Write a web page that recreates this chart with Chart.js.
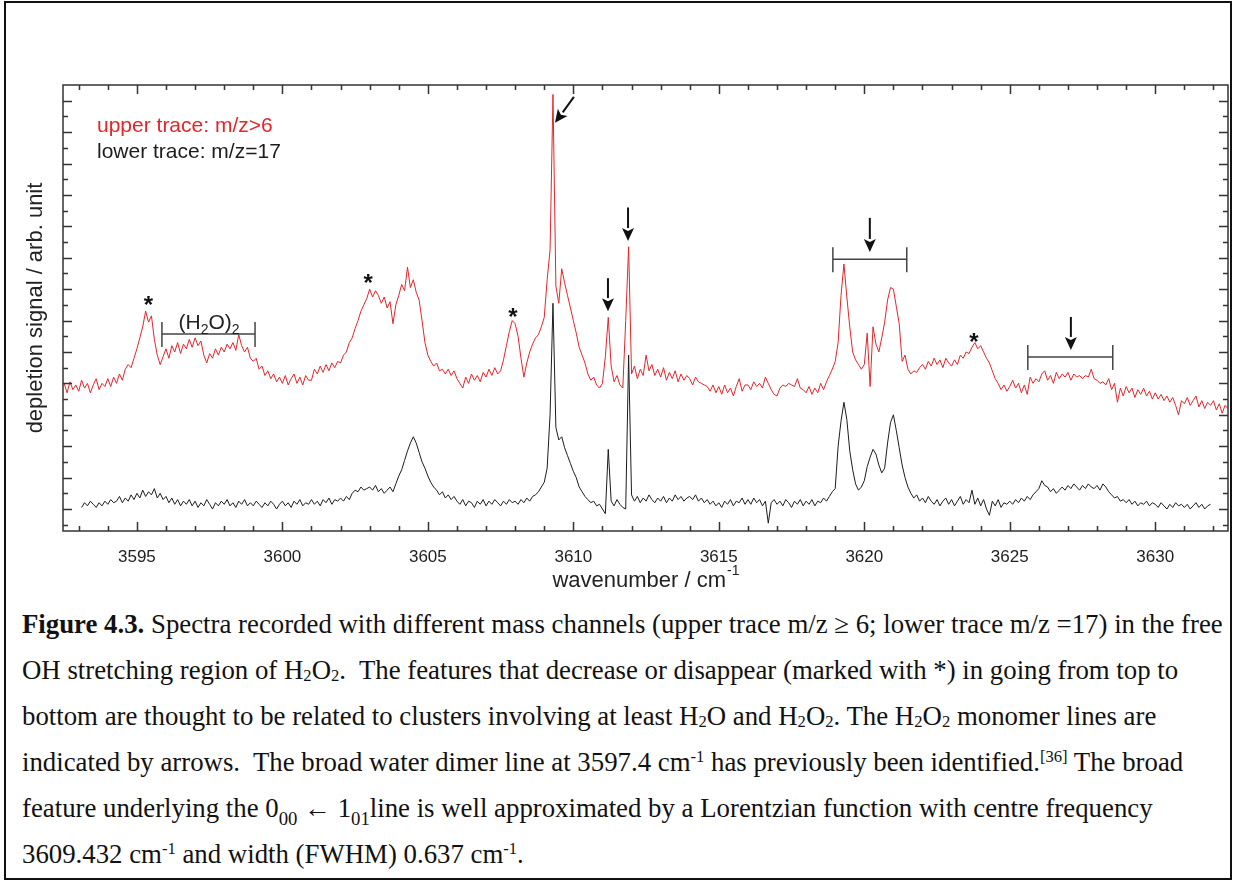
<!DOCTYPE html>
<html>
<head>
<meta charset="utf-8">
<title>Figure 4.3 - H2O2 free OH stretch spectra</title>
<script src="https://cdn.jsdelivr.net/npm/chart.js@4.4.1/dist/chart.umd.min.js"></script>
<style>
  body { margin: 0; background: #fff; }
  #frame { position: absolute; left: 4px; top: 1px; width: 1228px; height: 879px; border: 2px solid #111; box-sizing: border-box; }
  #plot { position: absolute; left: 0; top: 0; }
  #caption { position: absolute; left: 22px; top: 601px; font-family: 'Liberation Serif', 'Times New Roman', serif;
             font-size: 26.8px; line-height: 46px; color: #111; white-space: nowrap; }
  #caption sub { font-size: 0.62em; vertical-align: -0.1em; line-height: 0; }
  #caption sup { font-size: 0.62em; vertical-align: 0.55em; line-height: 0; }
  #caption .q sub { vertical-align: -0.4em; font-size: 0.7em; }
</style>
</head>
<body>
<div id="frame"></div>
<canvas id="plot" width="1235" height="600"></canvas>
<div id="caption">
  <div><b>Figure 4.3.</b> Spectra recorded with different mass channels (upper trace m/z ≥ 6; lower trace m/z =17) in the free</div>
  <div>OH stretching region of H<sub>2</sub>O<sub>2</sub>.&nbsp; The features that decrease or disappear (marked with *) in going from top to</div>
  <div>bottom are thought to be related to clusters involving at least H<sub>2</sub>O and H<sub>2</sub>O<sub>2</sub>. The H<sub>2</sub>O<sub>2</sub> monomer lines are</div>
  <div>indicated by arrows.&nbsp; The broad water dimer line at 3597.4 cm<sup>-1</sup> has previously been identified.<sup>[36]</sup> The broad</div>
  <div class="q">feature underlying the 0<sub>00</sub> ← 1<sub>01</sub>line is well approximated by a Lorentzian function with centre frequency</div>
  <div>3609.432 cm<sup>-1</sup> and width (FWHM) 0.637 cm<sup>-1</sup>.</div>
</div>
<script>
// Spectra: depletion signal (arb. unit, 1 = one y tick) per wavenumber / cm-1

const wavenumber = [
  3592.5, 3592.6, 3592.7, 3592.8, 3592.9,
  3593.0, 3593.1, 3593.2, 3593.3, 3593.4, 3593.5, 3593.6, 3593.7, 3593.8, 3593.9,
  3594.0, 3594.1, 3594.2, 3594.3, 3594.4, 3594.5, 3594.6, 3594.7, 3594.8, 3594.9,
  3595.0, 3595.1, 3595.2, 3595.3, 3595.4, 3595.5, 3595.6, 3595.7, 3595.8, 3595.9,
  3596.0, 3596.1, 3596.2, 3596.3, 3596.4, 3596.5, 3596.6, 3596.7, 3596.8, 3596.9,
  3597.0, 3597.1, 3597.2, 3597.3, 3597.4, 3597.5, 3597.6, 3597.7, 3597.8, 3597.9,
  3598.0, 3598.1, 3598.2, 3598.3, 3598.4, 3598.5, 3598.6, 3598.7, 3598.8, 3598.9,
  3599.0, 3599.1, 3599.2, 3599.3, 3599.4, 3599.5, 3599.6, 3599.7, 3599.8, 3599.9,
  3600.0, 3600.1, 3600.2, 3600.3, 3600.4, 3600.5, 3600.6, 3600.7, 3600.8, 3600.9,
  3601.0, 3601.1, 3601.2, 3601.3, 3601.4, 3601.5, 3601.6, 3601.7, 3601.8, 3601.9,
  3602.0, 3602.1, 3602.2, 3602.3, 3602.4, 3602.5, 3602.6, 3602.7, 3602.8, 3602.9,
  3603.0, 3603.1, 3603.2, 3603.3, 3603.4, 3603.5, 3603.6, 3603.7, 3603.8, 3603.9,
  3604.0, 3604.1, 3604.2, 3604.3, 3604.4, 3604.5, 3604.6, 3604.7, 3604.8, 3604.9,
  3605.0, 3605.1, 3605.2, 3605.3, 3605.4, 3605.5, 3605.6, 3605.7, 3605.8, 3605.9,
  3606.0, 3606.1, 3606.2, 3606.3, 3606.4, 3606.5, 3606.6, 3606.7, 3606.8, 3606.9,
  3607.0, 3607.1, 3607.2, 3607.3, 3607.4, 3607.5, 3607.6, 3607.7, 3607.8, 3607.9,
  3608.0, 3608.1, 3608.2, 3608.3, 3608.4, 3608.5, 3608.6, 3608.7, 3608.8, 3608.9,
  3609.0, 3609.1, 3609.2, 3609.3, 3609.4, 3609.5, 3609.6, 3609.7, 3609.8, 3609.9,
  3610.0, 3610.1, 3610.2, 3610.3, 3610.4, 3610.5, 3610.6, 3610.7, 3610.8, 3610.9,
  3611.0, 3611.1, 3611.2, 3611.3, 3611.4, 3611.5, 3611.6, 3611.7, 3611.8, 3611.9,
  3612.0, 3612.1, 3612.2, 3612.3, 3612.4, 3612.5, 3612.6, 3612.7, 3612.8, 3612.9,
  3613.0, 3613.1, 3613.2, 3613.3, 3613.4, 3613.5, 3613.6, 3613.7, 3613.8, 3613.9,
  3614.0, 3614.1, 3614.2, 3614.3, 3614.4, 3614.5, 3614.6, 3614.7, 3614.8, 3614.9,
  3615.0, 3615.1, 3615.2, 3615.3, 3615.4, 3615.5, 3615.6, 3615.7, 3615.8, 3615.9,
  3616.0, 3616.1, 3616.2, 3616.3, 3616.4, 3616.5, 3616.6, 3616.7, 3616.8, 3616.9,
  3617.0, 3617.1, 3617.2, 3617.3, 3617.4, 3617.5, 3617.6, 3617.7, 3617.8, 3617.9,
  3618.0, 3618.1, 3618.2, 3618.3, 3618.4, 3618.5, 3618.6, 3618.7, 3618.8, 3618.9,
  3619.0, 3619.1, 3619.2, 3619.3, 3619.4, 3619.5, 3619.6, 3619.7, 3619.8, 3619.9,
  3620.0, 3620.1, 3620.2, 3620.3, 3620.4, 3620.5, 3620.6, 3620.7, 3620.8, 3620.9,
  3621.0, 3621.1, 3621.2, 3621.3, 3621.4, 3621.5, 3621.6, 3621.7, 3621.8, 3621.9,
  3622.0, 3622.1, 3622.2, 3622.3, 3622.4, 3622.5, 3622.6, 3622.7, 3622.8, 3622.9,
  3623.0, 3623.1, 3623.2, 3623.3, 3623.4, 3623.5, 3623.6, 3623.7, 3623.8, 3623.9,
  3624.0, 3624.1, 3624.2, 3624.3, 3624.4, 3624.5, 3624.6, 3624.7, 3624.8, 3624.9,
  3625.0, 3625.1, 3625.2, 3625.3, 3625.4, 3625.5, 3625.6, 3625.7, 3625.8, 3625.9,
  3626.0, 3626.1, 3626.2, 3626.3, 3626.4, 3626.5, 3626.6, 3626.7, 3626.8, 3626.9,
  3627.0, 3627.1, 3627.2, 3627.3, 3627.4, 3627.5, 3627.6, 3627.7, 3627.8, 3627.9,
  3628.0, 3628.1, 3628.2, 3628.3, 3628.4, 3628.5, 3628.6, 3628.7, 3628.8, 3628.9,
  3629.0, 3629.1, 3629.2, 3629.3, 3629.4, 3629.5, 3629.6, 3629.7, 3629.8, 3629.9,
  3630.0, 3630.1, 3630.2, 3630.3, 3630.4, 3630.5, 3630.6, 3630.7, 3630.8, 3630.9,
  3631.0, 3631.1, 3631.2, 3631.3, 3631.4, 3631.5, 3631.6, 3631.7, 3631.8, 3631.9,
  3632.0, 3632.1, 3632.2, 3632.3, 3632.4, 3632.5
];

// upper trace, m/z > 6 (red)
const upperTrace = [
  9.0, 8.4, 9.1, 8.6, 8.9,
  8.5, 9.2, 8.7, 9.0, 8.4, 8.9, 9.3, 8.6, 9.0, 8.8,
  9.3, 8.8, 9.4, 9.0, 9.6, 9.2, 9.9, 10.2, 10.0, 10.6,
  11.2, 11.9, 12.6, 13.6, 12.9, 13.3, 11.8, 10.8, 10.2, 10.7,
  11.2, 10.6, 11.4, 11.0, 11.6, 10.9, 11.5, 11.2, 11.8, 11.3,
  11.9, 11.4, 11.7, 10.8, 10.3, 10.9, 10.6, 11.2, 10.8, 11.3,
  11.0, 11.5, 11.2, 11.6, 11.1, 12.1, 11.4, 11.0, 11.3, 10.6,
  10.4, 10.6, 9.9, 10.1, 9.5, 9.8, 9.3, 9.6, 9.1, 9.4,
  9.0, 9.5, 8.9, 9.3, 9.6, 9.0, 9.4, 8.9, 9.5, 9.2,
  9.2, 9.9, 9.6, 10.1, 9.7, 10.2, 9.8, 10.3, 10.0, 10.4,
  10.3, 10.8, 11.0, 11.6, 11.9, 12.5, 13.0, 13.6, 14.0, 14.4,
  15.0, 14.5, 14.9, 14.6, 14.1, 14.5, 13.8, 14.2, 12.8, 14.0,
  14.6, 15.3, 14.9, 16.4, 15.1, 15.6, 14.8, 14.3, 13.0, 11.6,
  10.8, 10.4, 10.1, 10.3, 9.8, 9.9, 9.6, 9.9, 9.5, 9.8,
  9.3, 9.0, 8.7, 9.4, 9.0, 9.6, 9.2, 9.5, 9.1, 9.7,
  9.4, 9.9, 9.5, 10.0, 9.6, 9.8, 10.5, 11.4, 12.3, 13.0,
  12.8, 12.0, 10.6, 9.4, 10.3, 11.0, 11.5, 11.9, 12.1, 12.6,
  13.2, 15.6, 17.5, 27.4, 15.2, 14.1, 16.3, 15.4, 14.6, 13.8,
  13.0, 12.2, 11.3, 10.8, 10.3, 9.6, 9.2, 9.4, 8.9, 8.7,
  9.0, 10.7, 13.2, 10.1, 9.1, 9.5, 8.9, 8.7, 13.0, 17.7,
  9.6, 10.1, 9.3, 9.9, 9.5, 10.8, 9.8, 10.2, 9.5, 9.9,
  9.4, 10.0, 9.2, 9.7, 9.3, 9.8, 9.1, 9.6, 9.2, 9.5,
  9.3, 8.9, 9.4, 9.1, 9.0, 8.9, 8.8, 8.5, 8.9, 8.4,
  8.8, 8.3, 8.9, 8.4, 8.7, 8.2, 8.8, 9.3, 8.5, 8.9,
  8.9, 8.6, 9.1, 8.8, 9.0, 8.7, 9.4, 9.0, 8.6, 8.3,
  8.2, 8.7, 8.9, 8.8, 9.0, 8.9, 8.8, 9.3, 8.7, 8.6,
  8.4, 8.8, 8.3, 8.7, 8.4, 9.0, 8.6, 9.1, 9.5, 9.9,
  10.4, 11.6, 14.6, 16.6, 14.5, 12.6, 11.0, 10.5, 10.2, 9.9,
  10.2, 12.2, 8.8, 12.6, 11.5, 11.0, 11.9, 12.9, 14.3, 15.1,
  15.0, 13.9, 12.8, 10.4, 10.8, 9.9, 9.6, 9.8, 9.7, 10.0,
  10.2, 9.9, 10.4, 10.1, 10.6, 10.2, 10.5, 10.0, 10.6, 10.3,
  10.1, 10.5, 10.2, 10.8, 10.6, 11.0, 10.9, 11.3, 11.6, 11.2,
  11.4, 11.0, 10.6, 10.3, 9.8, 9.3, 9.0, 8.6, 8.9, 8.5,
  8.8, 9.2, 8.7, 9.0, 8.4, 8.9, 8.3, 9.4, 9.0, 9.3,
  9.1, 9.6, 9.8, 9.2, 9.5, 9.0, 9.7, 9.3, 9.6, 9.4,
  9.7, 9.2, 9.6, 9.4, 9.5, 9.3, 9.5, 9.4, 9.9, 9.3,
  9.2, 9.0, 9.1, 8.9, 9.3, 8.6, 9.0, 7.8, 8.7, 8.2,
  8.8, 8.4, 8.7, 8.1, 8.6, 8.3, 8.7, 8.2, 8.5, 8.0,
  8.4, 8.0, 8.3, 7.9, 8.2, 7.8, 8.1, 7.6, 7.0, 7.9,
  7.7, 8.1, 7.6, 7.9, 8.2, 7.5, 7.9, 7.4, 7.8, 7.6,
  7.9, 7.3, 7.7, 7.1, 7.6, 7.4
];

// lower trace, m/z = 17 (black)
const lowerTrace = [
  null, null, null, null, null,
  null, 1.1, 1.4, 1.2, 1.5, 1.3, 1.1, 1.4, 1.2, 1.5,
  1.3, 1.6, 1.4, 1.5, 1.8, 1.4, 1.7, 1.5, 1.9, 1.6,
  2.0, 1.7, 2.2, 1.8, 2.1, 1.9, 2.3, 1.7, 2.0, 1.6,
  1.8, 1.4, 1.7, 1.3, 1.6, 1.2, 1.5, 1.3, 1.6, 1.2,
  1.5, 1.1, 1.4, 1.2, 1.6, 1.3, 1.0, 1.4, 1.2, 1.5,
  1.3, 1.6, 1.2, 1.4, 1.1, 1.5, 1.3, 1.6, 1.2, 1.4,
  1.2, 1.5, 1.3, 1.1, 1.4, 1.2, 1.5, 1.3, 1.0, 1.3,
  1.5, 1.2, 1.4, 1.1, 1.5, 1.3, 1.6, 1.2, 1.4, 1.3,
  1.6, 1.3, 1.5, 1.2, 1.6, 1.4, 1.7, 1.3, 1.6, 1.5,
  1.7, 1.5, 1.8, 1.6, 2.0, 2.2, 2.1, 2.4, 2.2, 2.3,
  2.4, 2.2, 2.5, 2.1, 2.3, 2.0, 2.2, 2.4, 2.1, 2.6,
  3.1, 3.5, 4.1, 4.7, 5.2, 5.6, 5.2, 4.6, 4.0, 3.6,
  3.1, 2.7, 2.4, 2.2, 1.9, 2.1, 1.7, 1.9, 1.6, 1.8,
  1.5, 1.3, 1.6, 1.2, 1.5, 1.4, 1.1, 1.5, 1.3, 1.6,
  1.2, 1.5, 1.3, 1.6, 1.4, 1.2, 1.5, 1.3, 1.6, 1.4,
  1.5, 1.3, 1.6, 1.4, 1.7, 1.5, 1.8, 1.9, 2.1, 2.4,
  2.7, 3.6, 7.0, 14.1, 6.2, 5.4, 5.6, 4.9, 4.4, 3.9,
  3.4, 3.0, 2.4, 2.1, 1.8, 1.6, 1.4, 1.5, 1.2, 1.3,
  1.0, 0.7, 4.8, 1.5, 1.2, 1.6, 1.3, 1.1, 1.0, 10.8,
  1.9, 1.5, 1.8, 1.4, 1.7, 1.5, 1.9, 1.6, 1.4, 1.7,
  1.5, 1.8, 1.4, 1.7, 1.5, 1.9, 1.6, 1.8, 1.5, 1.7,
  1.8, 1.6, 1.9, 1.5, 1.7, 1.4, 1.6, 1.3, 1.5, 1.2,
  1.4, 1.1, 1.5, 1.3, 1.6, 1.2, 1.5, 1.4, 1.7, 1.3,
  1.6, 1.3, 1.7, 1.4, 1.6, 1.2, 1.5, 0.1, 1.4, 1.6,
  1.3, 1.5, 1.2, 1.6, 1.4, 1.1, 1.5, 1.3, 1.6, 1.2,
  1.5, 1.3, 1.6, 1.2, 1.5, 1.4, 1.7, 1.5, 1.8, 2.1,
  2.3, 5.0, 6.6, 7.8, 6.7, 4.7, 3.5, 2.6, 2.2, 2.4,
  2.8, 3.7, 4.3, 4.8, 4.5, 3.8, 3.3, 3.6, 5.2, 6.5,
  7.0, 6.0, 4.9, 3.8, 3.0, 2.4, 2.0, 1.7, 1.9, 1.5,
  1.7, 1.4, 1.8, 1.5, 1.3, 1.6, 1.2, 1.5, 1.7, 1.3,
  1.6, 1.2, 1.5, 1.8, 1.3, 1.6, 1.4, 2.2, 1.3, 1.7,
  1.2, 1.6, 1.0, 0.6, 1.5, 1.2, 1.6, 1.1, 1.4, 1.3,
  1.5, 1.3, 1.6, 1.4, 1.7, 1.5, 1.8, 1.6, 1.9, 2.1,
  2.3, 2.8, 2.5, 2.4, 2.1, 2.3, 2.0, 2.2, 2.4, 2.2,
  2.5, 2.3, 2.6, 2.4, 2.2, 2.5, 2.3, 2.6, 2.4, 2.3,
  2.5, 2.2, 2.6, 2.4, 2.1, 1.9, 1.7, 1.8, 1.5, 1.6,
  1.4, 1.6, 1.3, 1.5, 1.2, 1.4, 1.3, 1.5, 1.2, 1.4,
  1.3, 1.1, 1.4, 1.2, 1.0, 1.3, 1.1, 1.4, 1.2, 1.3,
  1.1, 1.3, 1.0, 1.2, 1.4, 1.1, 1.3, 1.0, 1.2, 1.3,
  null, null, null, null, null, null
];

const xTickLabels = [3595, 3600, 3605, 3610, 3615, 3620, 3625, 3630];

// annotations in data coordinates
const starMarks = [[3595.4, 14.3], [3602.95, 15.7], [3607.92, 13.55], [3623.77, 11.96]];
const downArrows = [[3611.19, 15.7, 13.6], [3611.88, 20.2, 18.06], [3620.19, 19.54, 17.37], [3627.1, 13.23, 11.13]];
const slantArrow = [3610.02, 27.24, 3609.37, 25.59];
const brackets = [[3595.86, 3599.06, 12.14], [3618.92, 3621.46, 16.9], [3625.62, 3628.54, 10.68]];
const dimerLabel = [3597.48, 12.45];

const SANS = "'Liberation Sans', Arial, sans-serif";
const RED = '#e4252a';
const INK = '#1c1c1c';
const AXIS = '#333';

function arrow(ctx, x1, y1, x2, y2) {
  const a = Math.atan2(y2 - y1, x2 - x1), L = 13, W = 6;
  const bx = x2 - L * Math.cos(a), by = y2 - L * Math.sin(a);
  ctx.beginPath(); ctx.moveTo(x1, y1); ctx.lineTo(bx, by); ctx.stroke();
  ctx.beginPath();
  ctx.moveTo(x2, y2);
  ctx.lineTo(bx - W * Math.sin(a), by + W * Math.cos(a));
  ctx.lineTo(bx + 3 * Math.cos(a), by + 3 * Math.sin(a));
  ctx.lineTo(bx + W * Math.sin(a), by - W * Math.cos(a));
  ctx.closePath(); ctx.fill();
}

const overlay = {
  id: 'overlay',
  afterDraw(chart) {
    const { ctx, chartArea: ca, scales: { x, y } } = chart;
    ctx.save();

    // plot frame with inward ticks on all four sides
    ctx.strokeStyle = AXIS;
    ctx.lineWidth = 1.5;
    ctx.strokeRect(ca.left, ca.top, ca.right - ca.left, ca.bottom - ca.top);
    ctx.beginPath();
    for (let v = 3593; v <= 3632; v++) {
      const px = Math.round(x.getPixelForValue(v)) + 0.5;
      const len = v % 5 === 0 ? 9 : 5;
      ctx.moveTo(px, ca.bottom); ctx.lineTo(px, ca.bottom - len);
      ctx.moveTo(px, ca.top); ctx.lineTo(px, ca.top + len);
    }
    for (let v = 0; v <= 27; v++) {
      const py = Math.round(y.getPixelForValue(v)) + 0.5;
      const len = v % 2 === 1 ? 9 : 5;
      ctx.moveTo(ca.left, py); ctx.lineTo(ca.left + len, py);
      ctx.moveTo(ca.right, py); ctx.lineTo(ca.right - len, py);
    }
    ctx.stroke();

    // trace labels
    ctx.font = '21px ' + SANS;
    ctx.textBaseline = 'alphabetic';
    ctx.textAlign = 'left';
    chart.data.datasets.forEach((ds, i) => {
      ctx.fillStyle = ds.borderColor;
      ctx.fillText(ds.label, ca.left + 34, ca.top + 47 + i * 26);
    });

    // x axis title with superscript
    ctx.fillStyle = '#222';
    ctx.font = '22px ' + SANS;
    const main = 'wavenumber / cm';
    const w1 = ctx.measureText(main).width;
    ctx.font = '14px ' + SANS;
    const w2 = ctx.measureText('-1').width;
    const tx = (ca.left + ca.right) / 2 - (w1 + w2) / 2;
    ctx.font = '22px ' + SANS;
    ctx.fillText(main, tx, 587);
    ctx.font = '14px ' + SANS;
    ctx.fillText('-1', tx + w1 + 1, 575);

    // brackets
    ctx.strokeStyle = '#444';
    ctx.lineWidth = 1.5;
    brackets.forEach(([a, b, v]) => {
      const xa = x.getPixelForValue(a), xb = x.getPixelForValue(b), py = y.getPixelForValue(v);
      ctx.beginPath();
      ctx.moveTo(xa, py); ctx.lineTo(xb, py);
      ctx.moveTo(xa, py - 12); ctx.lineTo(xa, py + 13);
      ctx.moveTo(xb, py - 12); ctx.lineTo(xb, py + 13);
      ctx.stroke();
    });

    // arrows marking the H2O2 monomer lines
    ctx.strokeStyle = '#111';
    ctx.fillStyle = '#111';
    ctx.lineWidth = 2;
    downArrows.forEach(([w, top, tip]) => {
      const px = x.getPixelForValue(w);
      arrow(ctx, px, y.getPixelForValue(top), px, y.getPixelForValue(tip));
    });
    arrow(ctx, x.getPixelForValue(slantArrow[0]), y.getPixelForValue(slantArrow[1]),
               x.getPixelForValue(slantArrow[2]), y.getPixelForValue(slantArrow[3]));

    // cluster features
    ctx.font = 'bold 24px ' + SANS;
    ctx.textAlign = 'center';
    starMarks.forEach(([w, v]) => {
      ctx.fillText('*', x.getPixelForValue(w), y.getPixelForValue(v) + 13);
    });

    // (H2O)2 label
    ctx.textAlign = 'left';
    ctx.fillStyle = '#222';
    const parts = [['(H', 21, 0], ['2', 14, 5], ['O)', 21, 0], ['2', 14, 5]];
    let total = 0;
    parts.forEach(([t, s]) => { ctx.font = s + 'px ' + SANS; total += ctx.measureText(t).width; });
    let lx = x.getPixelForValue(dimerLabel[0]) - total / 2;
    const ly = y.getPixelForValue(dimerLabel[1]);
    parts.forEach(([t, s, dy]) => {
      ctx.font = s + 'px ' + SANS;
      ctx.fillText(t, lx, ly + dy);
      lx += ctx.measureText(t).width;
    });

    ctx.restore();
  }
};

new Chart(document.getElementById('plot'), {
  type: 'line',
  data: {
    datasets: [
      {
        label: 'upper trace: m/z>6',
        data: wavenumber.map((w, i) => ({ x: w, y: upperTrace[i] })),
        borderColor: RED,
        borderWidth: 1,
        pointRadius: 0,
        tension: 0
      },
      {
        label: 'lower trace: m/z=17',
        data: wavenumber.map((w, i) => ({ x: w, y: lowerTrace[i] })),
        borderColor: INK,
        borderWidth: 1,
        pointRadius: 0,
        tension: 0
      }
    ]
  },
  options: {
    responsive: false,
    animation: false,
    events: [],
    devicePixelRatio: 1,
    layout: { padding: { top: 85, right: 7, left: 0, bottom: 0 } },
    plugins: { legend: { display: false }, tooltip: { enabled: false } },
    scales: {
      x: {
        type: 'linear',
        min: 3592.46,
        max: 3632.5,
        grid: { display: false },
        border: { display: false },
        afterBuildTicks: (s) => { s.ticks = xTickLabels.map(v => ({ value: v })); },
        afterFit: (s) => { s.height = 69; },
        ticks: {
          padding: 8,
          maxRotation: 0,
          color: '#222',
          font: { family: SANS, size: 17 },
          callback: (v) => String(v)
        }
      },
      y: {
        min: -0.4,
        max: 28,
        grid: { display: false },
        border: { display: false },
        ticks: { display: false },
        afterFit: (s) => { s.width = 63; },
        title: {
          display: true,
          text: 'depletion signal / arb. unit',
          color: '#222',
          font: { family: SANS, size: 22 },
          padding: { top: 23, bottom: 0 }
        }
      }
    }
  },
  plugins: [overlay]
});
</script>
</body>
</html>
